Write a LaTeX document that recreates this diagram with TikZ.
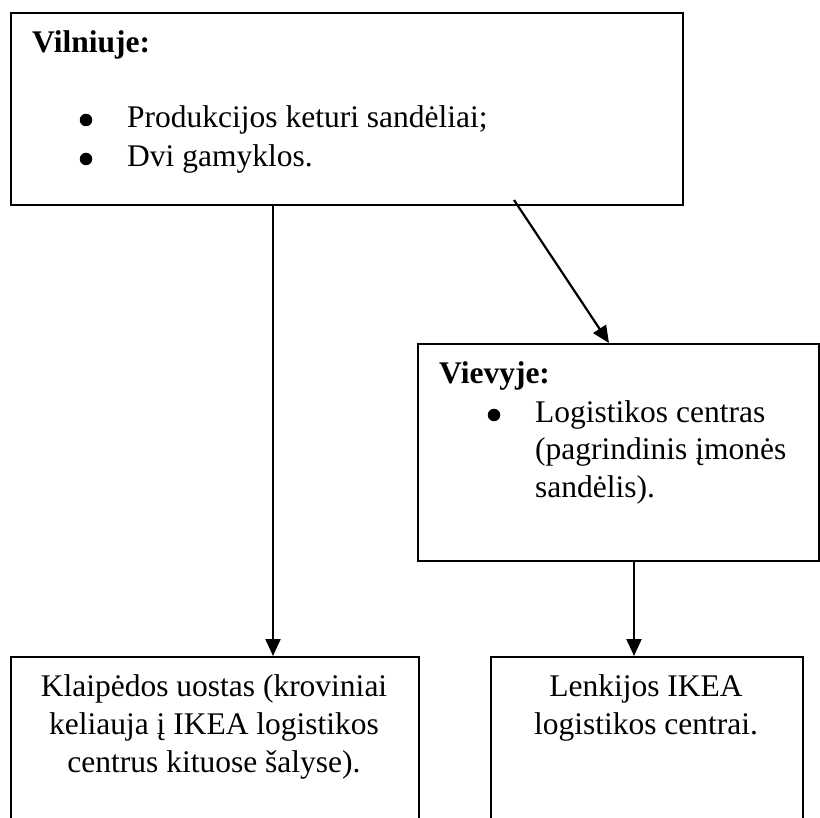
\documentclass[tikz,border=0pt]{standalone}
\usepackage{fontspec}
\setmainfont{Liberation Serif}
\usetikzlibrary{arrows.meta}
\begin{document}
\begin{tikzpicture}[x=1pt,y=1pt,
  box/.style={draw, line width=2.2pt, rectangle, inner sep=0pt, anchor=north west},
  txt/.style={inner sep=0pt, font=\fontsize{31.5}{38}\selectfont},
  dot/.style={circle, fill, inner sep=0pt, minimum size=12.5pt},
  arr/.style={line width=2.2pt, -{Triangle[length=17pt,width=15pt]}}]
\useasboundingbox (0,0) rectangle (820,-818);
\clip (0,0) rectangle (820,-818);
% boxes
\node[box, minimum width=672pt, minimum height=192pt] (top) at (10,-12) {};
\node[box, minimum width=401pt, minimum height=217pt] (viev) at (417,-343) {};
\node[box, minimum width=408pt, minimum height=180pt] (klai) at (10,-656) {};
\node[box, minimum width=312pt, minimum height=180pt] (lenk) at (490,-656) {};
% top box text
\node[txt, anchor=base west] (vt) at (32,-53) {\textbf{Vilniuje:}};
\node[dot] (vb1) at (86,-120) {};
\node[txt, anchor=base west] (vl1) at (127,-128) {Produkcijos keturi sandėliai;};
\node[dot] (vb2) at (86,-159) {};
\node[txt, anchor=base west] (vl2) at (127,-167) {Dvi gamyklos.};
% Vievyje text
\node[txt, anchor=base west] (wt) at (439,-384) {\textbf{Vievyje:}};
\node[dot] (wb1) at (494,-415) {};
\node[txt, anchor=base west] (wl1) at (535,-423) {Logistikos centras};
\node[txt, anchor=base west] (wl2) at (535,-460) {(pagrindinis įmonės};
\node[txt, anchor=base west] (wl3) at (535,-497) {sandėlis).};
% bottom texts
\node[txt, anchor=base] (k1) at (214,-696) {Klaipėdos uostas (kroviniai};
\node[txt, anchor=base] (k2) at (214,-734) {keliauja į IKEA logistikos};
\node[txt, anchor=base] (k3) at (214,-772) {centrus kituose šalyse).};
\node[txt, anchor=base] (p1) at (646,-696) {Lenkijos IKEA};
\node[txt, anchor=base] (p2) at (646,-734) {logistikos centrai.};
% connectors
\coordinate (l1) at (273,0);
\coordinate (d1) at (514,-200);
\coordinate (dx) at (609,0);
\coordinate (r1) at (634,0);
\draw[arr] (top.south -| l1) -- (klai.north -| l1);
\draw[arr] (d1) -- (viev.north -| dx);
\draw[arr] (viev.south -| r1) -- (lenk.north -| r1);
\end{tikzpicture}
\end{document}
